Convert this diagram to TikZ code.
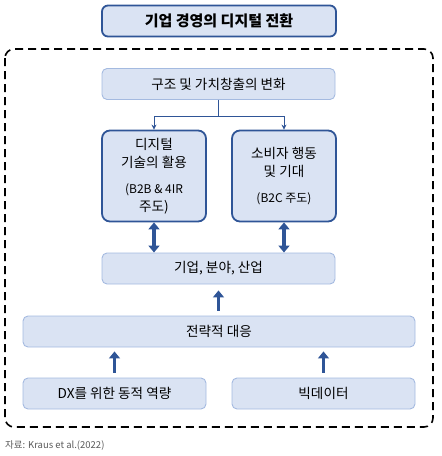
\documentclass[tikz,border=0pt]{standalone}
\usepackage{fontspec}
\setmainfont{Noto Sans CJK KR}
\usetikzlibrary{arrows.meta}
\definecolor{boxfill}{HTML}{DAE3F3}
\definecolor{boxline}{HTML}{A4BAE0}
\definecolor{darkline}{HTML}{2F5597}
\tikzset{
  flat/.style={draw=boxline, fill=boxfill, line width=0.9pt, rounded corners=5pt,
    minimum height=31pt, inner sep=0pt, font=\fontsize{13.6}{16}\selectfont},
  bold/.style={draw=darkline, fill=boxfill, line width=1.8pt, rounded corners=8pt,
    minimum width=104pt, minimum height=91pt, inner sep=0pt, align=center,
    font=\fontsize{13.6}{18}\selectfont},
  thin/.style={draw=darkline, line width=0.9pt, -{Stealth[length=5pt,width=5pt]}},
  fat/.style={draw=darkline, line width=3.2pt, -{Triangle[length=7pt,width=11pt]}},
  twin/.style={fat, {Triangle[length=7pt,width=11pt]}-{Triangle[length=7pt,width=11pt]}},
}
\begin{document}
\begin{tikzpicture}[x=1pt,y=-1pt]
\useasboundingbox (0,0) rectangle (442,456);
\node[draw=darkline, fill=boxfill, line width=1.8pt, rounded corners=6pt,
  minimum width=234pt, minimum height=31pt, font=\fontsize{15}{18}\selectfont\bfseries]
  (title) at (219,21) {기업 경영의 디지털 전환};
\draw[line width=1.6pt, dash pattern=on 8pt off 5pt, rounded corners=9pt]
  (5,49) rectangle (433,427);
\node[flat, minimum width=233pt] (chg) at (218.5,84) {구조 및 가치창출의 변화};
\node[bold] (dig) at (154,176) {디지털\\기술의 활용\\[8pt]{\fontsize{12}{18}\selectfont(B2B \& 4IR}\\주도)};
\node[bold] (con) at (284,176) {소비자 행동\\및 기대\\[8pt]{\fontsize{12}{18}\selectfont(B2C 주도)}};
\coordinate (split) at (218.5,116);
\draw[thin, -] (chg) -- (split);
\draw[thin] (split) -| (dig);
\draw[thin] (split) -| (con);
\node[flat, minimum width=233pt] (biz) at (218.5,268.5) {기업, 분야, 산업};
\draw[twin] (dig) -- (biz.north -| dig);
\draw[twin] (con) -- (biz.north -| con);
\node[flat, minimum width=392pt] (strat) at (219,331.5) {전략적 대응};
\draw[fat, shorten <=5pt, shorten >=6pt] (strat.north -| biz) -- (biz);
\node[flat, minimum width=183pt] (dx) at (114.5,393.5) {DX를 위한 동적 역량};
\node[flat, minimum width=183pt] (bigdata) at (323.5,393.5) {빅데이터};
\draw[fat, shorten <=5pt, shorten >=4pt] (dx) -- (strat.south -| dx);
\draw[fat, shorten <=5pt, shorten >=4pt] (bigdata) -- (strat.south -| bigdata);
\node[anchor=west, text=black!65, inner sep=0pt, font=\fontsize{9.5}{12}\selectfont]
  (src) at (5,445) {자료: Kraus et al.(2022)};
\end{tikzpicture}
\end{document}
